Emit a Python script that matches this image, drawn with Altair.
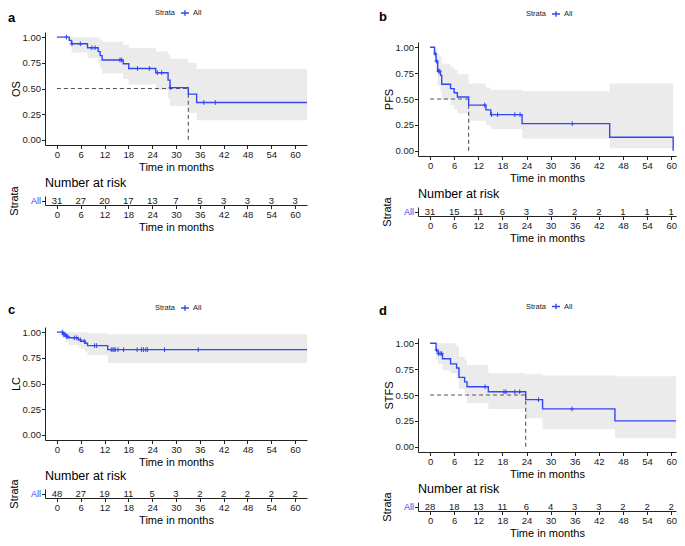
import altair as alt
import numpy as np
import pandas as pd

BLUE = "#3347F4"
BAND = "#EBEBEB"
FONT = "Liberation Sans"
INK = "#1a1a1a"

TICKS = [0, 6, 12, 18, 24, 30, 36, 42, 48, 54, 60]
Y_TICKS = [0.0, 0.25, 0.5, 0.75, 1.0]
STRATA = "All"

# ---------------- panel a : OS ----------------
a_time = [0, 3.1, 3.7, 7.7, 10.4, 10.9, 11.4, 16.7, 18.1, 24.9, 28.0, 28.5, 33.1, 35.2, 66]
a_surv = [1.0, 0.968, 0.935, 0.897, 0.859, 0.82, 0.778, 0.741, 0.695, 0.654, 0.582, 0.509, 0.445, 0.364, 0.364]
a_lower = [1.0, 0.908, 0.850, 0.797, 0.744, 0.695, 0.645, 0.593, 0.540, 0.486, 0.40, 0.33, 0.262, 0.19, 0.19]
a_upper = [1.0, 1.0, 1.0, 1.0, 0.997, 0.977, 0.955, 0.926, 0.895, 0.86, 0.83, 0.79, 0.75, 0.69, 0.69]
a_cens = [2.4, 3.8, 5.9, 8.8, 9.6, 15.9, 16.3, 20.3, 23.3, 25.3, 26.4, 28.6, 37.0, 39.9]
a_median = 33.1
a_risk = [31, 27, 20, 17, 13, 7, 5, 3, 3, 3, 3]

# ---------------- panel b : PFS ----------------
b_time = [0, 1.1, 1.5, 1.9, 2.6, 2.9, 5.1, 6.0, 6.8, 9.6, 13.9, 15.1, 22.9, 44.7, 60.5]
b_surv = [1.0, 0.935, 0.866, 0.768, 0.728, 0.642, 0.60, 0.56, 0.519, 0.441, 0.395, 0.349, 0.262, 0.131, 0.0]
b_lower = [1.0, 0.85, 0.75, 0.63, 0.58, 0.49, 0.44, 0.40, 0.36, 0.29, 0.25, 0.21, 0.12, 0.025, 0.0]
b_upper = [1.0, 1.0, 0.99, 0.93, 0.91, 0.84, 0.81, 0.78, 0.74, 0.65, 0.61, 0.59, 0.575, 0.65, 0.0]
b_cens = [1.3, 1.6, 2.1, 2.4, 13.6, 15.3, 16.8, 21.1, 22.4, 35.4]
b_median = 9.6
b_risk = [31, 15, 11, 6, 3, 3, 2, 2, 1, 1, 1]

# ---------------- panel c : LC ----------------
c_time = [0, 1.5, 2.2, 3.0, 5.4, 6.0, 7.1, 7.7, 12.8, 66]
c_surv = [1.0, 0.979, 0.958, 0.945, 0.925, 0.912, 0.892, 0.869, 0.83, 0.83]
c_lower = [1.0, 0.94, 0.905, 0.875, 0.85, 0.835, 0.81, 0.775, 0.70, 0.70]
c_upper = [1.0, 1.0, 1.0, 1.0, 1.0, 1.0, 1.0, 0.99, 0.98, 0.98]
c_cens = [1.4, 1.6, 1.8, 2.0, 2.4, 2.7, 4.4, 5.0, 5.9, 6.9, 9.5, 10.0, 13.7, 14.1, 14.4,
          14.7, 15.4, 16.8, 20.2, 21.3, 21.8, 22.4, 22.8, 27.1, 35.6]
c_median = None
c_risk = [48, 27, 19, 11, 5, 3, 2, 2, 2, 2, 2]

# ---------------- panel d : STFS ----------------
d_time = [0, 1.5, 2.0, 3.1, 5.1, 6.6, 7.2, 8.6, 9.2, 14.5, 23.8, 28.0, 46.0, 66]
d_surv = [1.0, 0.933, 0.90, 0.85, 0.80, 0.76, 0.67, 0.627, 0.58, 0.531, 0.455, 0.366, 0.25, 0.25]
d_lower = [1.0, 0.84, 0.80, 0.74, 0.71, 0.66, 0.56, 0.52, 0.42, 0.365, 0.276, 0.169, 0.083, 0.083]
d_upper = [1.0, 1.0, 1.0, 1.0, 1.0, 0.97, 0.87, 0.84, 0.79, 0.71, 0.70, 0.687, 0.68, 0.68]
d_cens = [1.6, 2.1, 2.5, 2.9, 13.7, 18.4, 18.9, 21.1, 22.3, 27.0, 35.3]
d_median = 23.8
d_risk = [28, 18, 13, 11, 6, 4, 3, 3, 2, 2, 2]

PLUS = "M-0.8,0L0.8,0M0,-1L0,1"
LEG_SYMBOL = "M-1,0L1,0M0,-0.7L0,0.7"


def step_lookup(times, vals, t):
    idx = int(np.searchsorted(np.asarray(times), t, side="right")) - 1
    return vals[idx]


def x_enc(field, xmax):
    return alt.X(field, scale=alt.Scale(domain=[-3, xmax], nice=False, zero=False),
                 axis=alt.Axis(values=TICKS, title="Time in months", format="d"))


def km_panel(letter, ylab, times, surv, lower, upper, cens, median,
             width, height, xmax, legend_x, legend_y, letter_dx, letter_off):
    curve = pd.DataFrame({"t": times, "s": surv, "lo": lower, "hi": upper,
                          "strata": [STRATA] * len(times)})
    cdf = pd.DataFrame({"t": cens, "s": [step_lookup(times, surv, c) for c in cens]})
    ysc = alt.Scale(domain=[-0.05, 1.05], nice=False, zero=False)
    yax = alt.Axis(values=Y_TICKS, format=".2f", title=ylab, titlePadding=1)

    def y_enc(field):
        return alt.Y(field, scale=ysc, axis=yax)

    band = alt.Chart(curve).mark_area(interpolate="step-after", color=BAND, clip=True).encode(
        x=x_enc("t:Q", xmax), y=y_enc("lo:Q"), y2="hi:Q")
    layers = [band]
    if median is not None:
        mdf = pd.DataFrame({"x0": [0.0], "m": [median], "y0": [0.0], "h": [0.5]})
        hline = alt.Chart(mdf).mark_rule(strokeDash=[4, 3], color="#555555", strokeWidth=1.1).encode(
            x=x_enc("x0:Q", xmax), x2="m:Q", y=y_enc("h:Q"))
        vline = alt.Chart(mdf).mark_rule(strokeDash=[4, 3], color="#555555", strokeWidth=1.1).encode(
            x=x_enc("m:Q", xmax), y=y_enc("y0:Q"), y2="h:Q")
        layers += [hline, vline]
    line = alt.Chart(curve).mark_line(interpolate="step-after", strokeWidth=1.4, clip=True).encode(
        x=x_enc("t:Q", xmax), y=y_enc("s:Q"),
        color=alt.Color("strata:N", scale=alt.Scale(domain=[STRATA], range=[BLUE]),
                        legend=alt.Legend(orient="none", legendX=legend_x, legendY=legend_y,
                                          direction="horizontal", title="Strata",
                                          titleOrient="left", titleFontSize=7.5,
                                          titleFontWeight="normal", titleColor=INK,
                                          titleBaseline="middle", titlePadding=4,
                                          labelFontSize=7.5, labelColor=INK, labelOffset=3,
                                          symbolType=LEG_SYMBOL, symbolSize=64,
                                          symbolStrokeWidth=1.4, padding=0)))
    pts = alt.Chart(cdf).mark_point(shape=PLUS, size=22, strokeWidth=1, filled=False,
                                    color=BLUE, opacity=1, clip=True).encode(
        x=x_enc("t:Q", xmax), y=y_enc("s:Q"))
    layers += [line, pts]
    return alt.layer(*layers).properties(
        width=width, height=height,
        title=alt.TitleParams(letter, anchor="start", frame="group", dx=letter_dx,
                              fontSize=13, fontWeight="bold", color="black", offset=letter_off))


def risk_table(counts, width, xmax):
    df = pd.DataFrame({"t": TICKS, "n": counts, "strata": [STRATA] * len(TICKS)})
    return alt.Chart(df).mark_text(fontSize=9.5, color=INK, baseline="middle", dy=0.5).encode(
        x=x_enc("t:Q", xmax),
        y=alt.Y("strata:N", axis=alt.Axis(title="Strata", labelColor=BLUE, labelFontSize=9,
                                          titlePadding=11, labelPadding=1)),
        text="n:Q").properties(
        width=width, height=9,
        title=alt.TitleParams("Number at risk", anchor="start", frame="group", fontSize=12.5,
                              fontWeight="normal", color="black", offset=-4))


def spacer(w, h):
    return alt.Chart(pd.DataFrame({"v": [0]})).mark_point(opacity=0).encode(
        x=alt.X("v:Q", axis=None), y=alt.Y("v:Q", axis=None)).properties(width=w, height=h)


LW, RW = 262, 258
LX, RX = 63, 61.2

left = alt.vconcat(
    km_panel("a", "OS", a_time, a_surv, a_lower, a_upper, a_cens, a_median, LW, 113, LX, 110, -24, -37, -16.5),
    spacer(LW, 50.8),
    risk_table(a_risk, LW, LX),
    spacer(LW, 121.7),
    km_panel("c", "LC", c_time, c_surv, c_lower, c_upper, c_cens, c_median, LW, 113, LX, 110, -24, -37, -13.5),
    spacer(LW, 48.5),
    risk_table(c_risk, LW, LX),
    spacing=0, bounds="flush"
).resolve_scale(color="independent").resolve_legend(color="independent")

right = alt.vconcat(
    spacer(RW, 10),
    km_panel("b", "PFS", b_time, b_surv, b_lower, b_upper, b_cens, b_median, RW, 114, RX, 108, -33, -39, -14.5),
    spacer(RW, 50.2),
    risk_table(b_risk, RW, RX),
    spacer(RW, 121.2),
    km_panel("d", "STFS", d_time, d_surv, d_lower, d_upper, d_cens, d_median, RW, 114, RX, 108, -36.5, -39, -16.5),
    spacer(RW, 49.2),
    risk_table(d_risk, RW, RX),
    spacing=0, bounds="flush"
).resolve_scale(color="independent").resolve_legend(color="independent")

chart = alt.hconcat(left, right, spacing=72).resolve_scale(
    color="independent").resolve_legend(color="independent").properties(
    padding={"left": 0, "top": 0, "right": 0, "bottom": 0}
).configure(font=FONT).configure_view(stroke=None).configure_axis(
    grid=False, domainColor="#222222", domainWidth=1, tickColor="#222222", tickWidth=1,
    tickSize=3.5, labelFontSize=9.5, labelColor=INK, labelPadding=1, titleFontSize=11,
    titleColor="black", titleFontWeight="normal", titlePadding=2
).configure_title(font=FONT)

chart.save("out.html", embed_options={"renderer": "svg", "actions": False})
